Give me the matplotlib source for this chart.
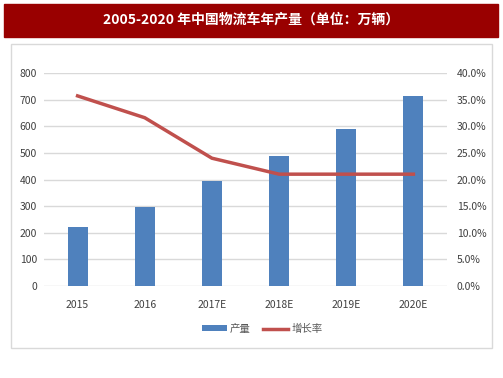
import numpy as np
import matplotlib.pyplot as plt
from matplotlib.patches import Rectangle
from matplotlib.ticker import FuncFormatter

plt.rcParams['font.family'] = ['Noto Sans CJK SC', 'DejaVu Sans']

# data
years = ['2015', '2016', '2017E', '2018E', '2019E', '2020E']
output = [222, 298, 395, 489, 589, 714]          # 产量 (万辆)
growth = [35.7, 31.6, 24.0, 21.0, 21.0, 21.0]    # 增长率 (%)

W, H = 503, 378
fig = plt.figure(figsize=(W / 100, H / 100), dpi=100)

def fx(px):
    return px / W

def fy(py):
    return 1 - py / H

# title bar
fig.patches.append(Rectangle((fx(4), fy(37)), fx(494), (33) / H,
                             transform=fig.transFigure, color='#990000', zorder=0))
fig.text(fx(251), fy(20), '2005-2020 年中国物流车年产量（单位：万辆）',
         color='white', fontsize=10, fontweight='bold', ha='center', va='center')

# gray frame
fig.patches.append(Rectangle((fx(11), fy(348)), fx(481), (348 - 44) / H,
                             transform=fig.transFigure, fill=False,
                             edgecolor='#D9D9D9', linewidth=1, zorder=0))

ax = fig.add_axes([fx(44), fy(286), fx(403), (286 - 73) / H])
x = np.arange(len(years))
ax.bar(x, output, width=0.3, color='#4F81BD', label='产量', zorder=2)
ax.set_ylim(0, 800)
ax.set_yticks(range(0, 801, 100))
ax.set_xlim(-0.5, len(years) - 0.5)
ax.set_xticks(x)
ax.set_xticklabels(years)
ax.grid(axis='y', color='#D9D9D9', linewidth=1, zorder=0)
for s in ax.spines.values():
    s.set_visible(False)
ax.tick_params(length=0, labelsize=7.5, colors='#404040')
ax.tick_params(axis='x', pad=10)
ax.tick_params(axis='y', pad=5)

ax2 = ax.twinx()
ax2.plot(x, growth, color='#C0504D', linewidth=2.5, label='增长率', zorder=3)
ax2.set_ylim(0, 40)
ax2.set_yticks(np.arange(0, 41, 5))
ax2.yaxis.set_major_formatter(FuncFormatter(lambda v, p: f'{v:.1f}%'))
for s in ax2.spines.values():
    s.set_visible(False)
ax2.tick_params(length=0, labelsize=7.5, colors='#404040', pad=7)

h1, l1 = ax.get_legend_handles_labels()
h2, l2 = ax2.get_legend_handles_labels()
fig.legend(h1 + h2, l1 + l2, loc='center', bbox_to_anchor=(fx(262), fy(329)),
           ncol=2, frameon=False, fontsize=7.5, handlelength=2.4,
           handleheight=0.5, columnspacing=1.2, handletextpad=0.3,
           labelcolor='#595959')

fig.savefig('out.png', dpi=100)
